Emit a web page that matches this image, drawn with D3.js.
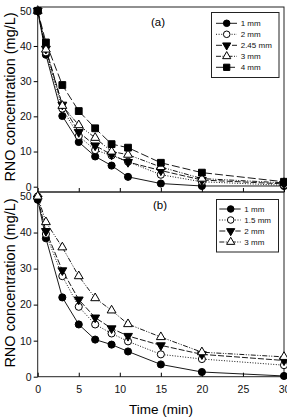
<!DOCTYPE html>
<html>
<head>
<meta charset="utf-8">
<script src="https://cdn.jsdelivr.net/npm/d3@7"></script>
<style>
body { margin: 0; background: #fff; }
svg { display: block; font-family: Arial, "Liberation Sans", sans-serif; }
</style>
</head>
<body>
<svg id="chart" width="287" height="418"></svg>
<script>
// sampling times (min), shared by both panels
var times = [0, 1, 3, 5, 7, 9, 11, 15, 20, 30];
var xTicks = [0, 5, 10, 15, 20, 25, 30];
var yTicks = [0, 10, 20, 30, 40, 50];

// panel (a)
var aNames = ['1 mm', '2 mm', '2.45 mm', '3 mm', '4 mm'];
var a1 = [50, 37.5, 20.1, 12.7, 8.6, 6.0, 2.8, 0.9, 0.2, 0.2];
var a2 = [50, 38.2, 22.2, 14.4, 10.4, 8.9, 7.1, 3.4, 1.4, 0.4];
var a245 = [50, 39.2, 23.3, 15.5, 11.7, 9.1, 7.0, 4.6, 1.9, 0.8];
var a3 = [50, 39.0, 23.0, 17.5, 13.9, 10.0, 9.1, 5.6, 2.3, 1.1];
var a4 = [50, 41.0, 28.9, 21.5, 16.6, 12.1, 11.1, 6.8, 4.0, 1.4];

// panel (b)
var bNames = ['1 mm', '1.5 mm', '2 mm', '3 mm'];
var b1 = [49.1, 38.4, 22.0, 14.5, 10.3, 8.9, 7.0, 3.4, 1.3, 0.2];
var b15 = [50, 39.6, 27.9, 19.4, 14.5, 12.0, 9.8, 6.2, 4.9, 3.2];
var b2 = [49.4, 40.4, 29.5, 21.4, 16.4, 13.4, 11.3, 8.7, 6.2, 4.5];
var b3 = [50, 42.9, 35.9, 27.9, 21.8, 18.4, 14.6, 11.0, 6.8, 5.5];

var chart = {
	svg: d3.select('#chart'),
	left: 37.7,
	right: 284,
	init: function() {
		chart.x = d3.scaleLinear().domain([0, 30]).range([chart.left, chart.right]);

		chart.panel({
			top: 7, bottom: 192,
			y: d3.scaleLinear().domain([0, 50]).range([186.7, 10.8]),
			label: '(a)', labelX: 158, labelY: 25.5,
			series: [
				{ name: aNames[0], values: a1, shape: 'circle', fill: '#000', dash: null },
				{ name: aNames[1], values: a2, shape: 'circle', fill: '#fff', dash: '1,1.6' },
				{ name: aNames[2], values: a245, shape: 'down', fill: '#000', dash: '6,2' },
				{ name: aNames[3], values: a3, shape: 'up', fill: '#fff', dash: '5,1.5,1,1.5,1,1.5' },
				{ name: aNames[4], values: a4, shape: 'square', fill: '#000', dash: '8,3' }
			],
			legend: { x0: 211.5, y0: 12.5, w: 67.5, h: 65, lx0: 216, lx1: 237, mx: 226.7, tx: 240.7, ry: 23.3, dy: 11 },
			showX: false,
			titleY: 97
		});

		chart.panel({
			top: 192, bottom: 376.7,
			y: d3.scaleLinear().domain([0, 50]).range([376.7, 196.5]),
			label: '(b)', labelX: 160, labelY: 209,
			series: [
				{ name: bNames[0], values: b1, shape: 'circle', fill: '#000', dash: null },
				{ name: bNames[1], values: b15, shape: 'circle', fill: '#fff', dash: '1,1.6' },
				{ name: bNames[2], values: b2, shape: 'down', fill: '#000', dash: '6,2' },
				{ name: bNames[3], values: b3, shape: 'up', fill: '#fff', dash: '5,1.5,1,1.5,1,1.5' }
			],
			legend: { x0: 216.5, y0: 199.5, w: 62, h: 52.5, lx0: 219.3, lx1: 240.7, mx: 230.7, tx: 244.3, ry: 209, dy: 11 },
			showX: true,
			titleY: 283
		});

		chart.svg.append('text')
			.attr('x', 161)
			.attr('y', 414)
			.attr('text-anchor', 'middle')
			.style('font-size', '13.5px')
			.text('Time (min)');
	},
	symbol: function(shape, big) {
		var k = big ? 1 : 0.85;
		if (shape === 'circle') return d3.symbol().type(d3.symbolCircle).size(40 * k)();
		if (shape === 'square') return d3.symbol().type(d3.symbolSquare).size(46 * k)();
		return d3.symbol().type(d3.symbolTriangle).size(34 * k)();
	},
	marker: function(g, shape, fill, big) {
		return g.append('path')
			.attr('d', chart.symbol(shape, big))
			.attr('fill', fill)
			.attr('stroke', '#000')
			.attr('stroke-width', 1);
	},
	panel: function(p) {
		var svg = chart.svg, x = chart.x, y = p.y;
		var g = svg.append('g');

		// frame
		g.append('rect')
			.attr('x', chart.left)
			.attr('y', p.top)
			.attr('width', chart.right - chart.left)
			.attr('height', p.bottom - p.top)
			.attr('fill', 'none')
			.attr('stroke', '#222')
			.attr('stroke-width', 1);

		// y axis, ticks outside
		var yAxis = d3.axisLeft(y).tickValues(yTicks).tickSize(4).tickPadding(2);
		var ya = g.append('g').attr('transform', 'translate(' + chart.left + ',0)').call(yAxis);
		ya.select('.domain').remove();
		ya.selectAll('text').style('font-size', '10.5px').attr('fill', '#111');

		// x axis, ticks pointing up into the panel
		var xAxis = d3.axisBottom(x).tickValues(xTicks).tickSize(-4).tickPadding(9);
		var xa = g.append('g').attr('transform', 'translate(0,' + p.bottom + ')').call(xAxis);
		xa.select('.domain').remove();
		xa.selectAll('text').style('font-size', '10.5px').attr('fill', '#111');
		if (!p.showX) xa.selectAll('text').remove();

		// y title
		g.append('text')
			.attr('transform', 'translate(14.5,' + p.titleY + ')rotate(-90)')
			.attr('text-anchor', 'middle')
			.style('font-size', '14.5px')
			.text('RNO concentration (mg/L)');

		g.append('text')
			.attr('x', p.labelX)
			.attr('y', p.labelY)
			.attr('text-anchor', 'middle')
			.style('font-size', '11.5px')
			.text(p.label);

		var line = d3.line()
			.x(function(d, i) { return x(times[i]); })
			.y(function(d) { return y(d); });

		$each(p.series, function(s) {
			g.append('path')
				.attr('d', line(s.values))
				.attr('fill', 'none')
				.attr('stroke', '#000')
				.attr('stroke-width', 0.9)
				.attr('stroke-dasharray', s.dash);
		});
		$each(p.series, function(s) {
			s.values.forEach(function(v, i) {
				var m = chart.marker(g, s.shape, s.fill, true);
				m.attr('transform', 'translate(' + x(times[i]) + ',' + y(v) + ')' + (s.shape === 'down' ? 'rotate(180)' : ''));
			});
		});

		// legend
		var L = p.legend;
		var lg = g.append('g');
		lg.append('rect')
			.attr('x', L.x0).attr('y', L.y0)
			.attr('width', L.w).attr('height', L.h)
			.attr('fill', '#fff')
			.attr('stroke', '#222')
			.attr('stroke-width', 1);
		p.series.forEach(function(s, i) {
			var ry = L.ry + i * L.dy;
			lg.append('line')
				.attr('x1', L.lx0).attr('x2', L.lx1)
				.attr('y1', ry).attr('y2', ry)
				.attr('stroke', '#000')
				.attr('stroke-width', 0.9)
				.attr('stroke-dasharray', s.dash);
			chart.marker(lg, s.shape, s.fill, false)
				.attr('transform', 'translate(' + L.mx + ',' + ry + ')' + (s.shape === 'down' ? 'rotate(180)' : ''));
			lg.append('text')
				.attr('x', L.tx)
				.attr('y', ry + 3)
				.style('font-size', '8px')
				.attr('fill', '#111')
				.text(s.name);
		});
	}
};

function $each(list, fn) { list.forEach(fn); }

chart.init();
</script>
</body>
</html>
